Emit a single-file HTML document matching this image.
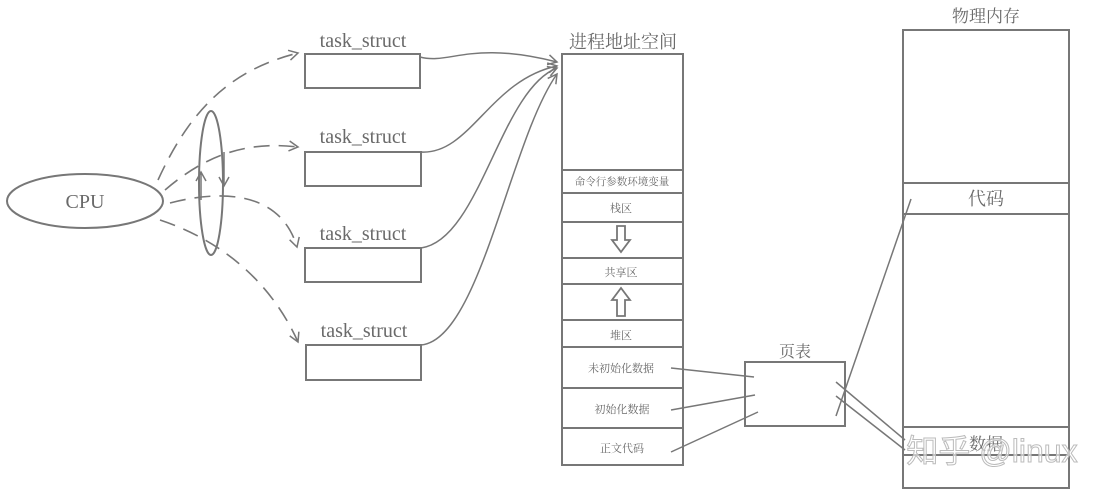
<!DOCTYPE html>
<html><head><meta charset="utf-8"><style>
html,body{margin:0;padding:0;background:#fff;}
svg{display:block}
text{font-family:"Liberation Serif","Noto Serif CJK SC",serif;fill:#6a6a6a;}
</style></head><body>
<svg width="1111" height="496" viewBox="0 0 1111 496" xmlns="http://www.w3.org/2000/svg">
<defs>
<marker id="a" markerWidth="12" markerHeight="12" refX="10" refY="6" orient="auto" markerUnits="userSpaceOnUse">
<path d="M1,1 L10,6 L1,11" fill="none" stroke="#777" stroke-width="1.5"/></marker>
</defs>
<g stroke="#777" stroke-width="2" fill="none">
<ellipse cx="85" cy="201" rx="78" ry="27"/>
<ellipse cx="211" cy="183" rx="12" ry="72"/>
<rect x="305" y="54" width="115" height="34"/>
<rect x="305" y="152" width="116" height="34"/>
<rect x="305" y="248" width="116" height="34"/>
<rect x="306" y="345" width="115" height="35"/>
<rect x="562" y="54" width="121" height="411"/>
<line x1="562" y1="170" x2="683" y2="170"/>
<line x1="562" y1="193" x2="683" y2="193"/>
<line x1="562" y1="222" x2="683" y2="222"/>
<line x1="562" y1="258" x2="683" y2="258"/>
<line x1="562" y1="284" x2="683" y2="284"/>
<line x1="562" y1="320" x2="683" y2="320"/>
<line x1="562" y1="347" x2="683" y2="347"/>
<line x1="562" y1="388" x2="683" y2="388"/>
<line x1="562" y1="428" x2="683" y2="428"/>
<rect x="903" y="30" width="166" height="458"/>
<line x1="903" y1="183" x2="1069" y2="183"/>
<line x1="903" y1="214" x2="1069" y2="214"/>
<line x1="903" y1="427" x2="1069" y2="427"/>
<line x1="903" y1="455" x2="1069" y2="455"/>
<rect x="745" y="362" width="100" height="64"/>
</g>
<g stroke="#777" stroke-width="1.8" fill="none">
<path d="M617,226 h8 v14 h5 l-9,12 l-9,-12 h5 z"/>
<path d="M617,316 h8 v-16 h5 l-9,-12 l-9,12 h5 z"/>
</g>
<g stroke="#777" stroke-width="1.6" fill="none" stroke-dasharray="16,9">
<path d="M158,180 C190,110 230,70 298,53" marker-end="url(#a)"/>
<path d="M165,190 C200,160 240,140 298,147" marker-end="url(#a)"/>
<path d="M170,203 C220,190 280,190 297,247" marker-end="url(#a)"/>
<path d="M160,220 C220,240 270,280 298,342" marker-end="url(#a)"/>
</g>
<g stroke="#777" stroke-width="1.5" fill="none">
<path d="M201,200 L201,172" marker-end="url(#a)"/>
<path d="M224,152 L224,186" marker-end="url(#a)"/>
<path d="M420,57 C450,65 470,40 557,62" marker-end="url(#a)"/>
<path d="M421,152 C470,155 490,80 557,66" marker-end="url(#a)"/>
<path d="M421,248 C480,240 500,90 557,68" marker-end="url(#a)"/>
<path d="M421,345 C480,340 510,140 557,74" marker-end="url(#a)"/>
<line x1="671" y1="368" x2="754" y2="377"/>
<line x1="671" y1="410" x2="755" y2="395"/>
<line x1="671" y1="452" x2="758" y2="412"/>
<line x1="836" y1="416" x2="911" y2="199"/>
<line x1="836" y1="382" x2="905" y2="440"/>
<line x1="836" y1="396" x2="905" y2="450"/>
</g>
<g font-size="20">
<text x="363" y="47" text-anchor="middle">task_struct</text>
<text x="363" y="143" text-anchor="middle">task_struct</text>
<text x="363" y="240" text-anchor="middle">task_struct</text>
<text x="364" y="337" text-anchor="middle">task_struct</text>
<text x="85" y="208" text-anchor="middle">CPU</text>
</g>
<text x="623" y="48" font-size="18" text-anchor="middle">进程地址空间</text>
<text x="986" y="22" font-size="17" text-anchor="middle">物理内存</text>
<text x="986" y="205" font-size="18" text-anchor="middle">代码</text>
<text x="795" y="357" font-size="16" text-anchor="middle">页表</text>
<g font-size="11" text-anchor="middle">
<text x="622" y="185" font-size="10.5">命令行参数环境变量</text>
<text x="621" y="212">栈区</text>
<text x="621" y="276">共享区</text>
<text x="621" y="339">堆区</text>
<text x="621" y="372">未初始化数据</text>
<text x="622" y="413">初始化数据</text>
<text x="622" y="452">正文代码</text>
</g>
<text x="986" y="450" font-size="17" text-anchor="middle">数据</text>
<text x="992" y="462" font-size="32" text-anchor="middle" style="fill:#fff;fill-opacity:0.6;stroke:#bbb;stroke-width:1;font-family:'Liberation Sans','Noto Sans CJK SC',sans-serif">知乎 @linux</text>
</svg>
</body></html>
